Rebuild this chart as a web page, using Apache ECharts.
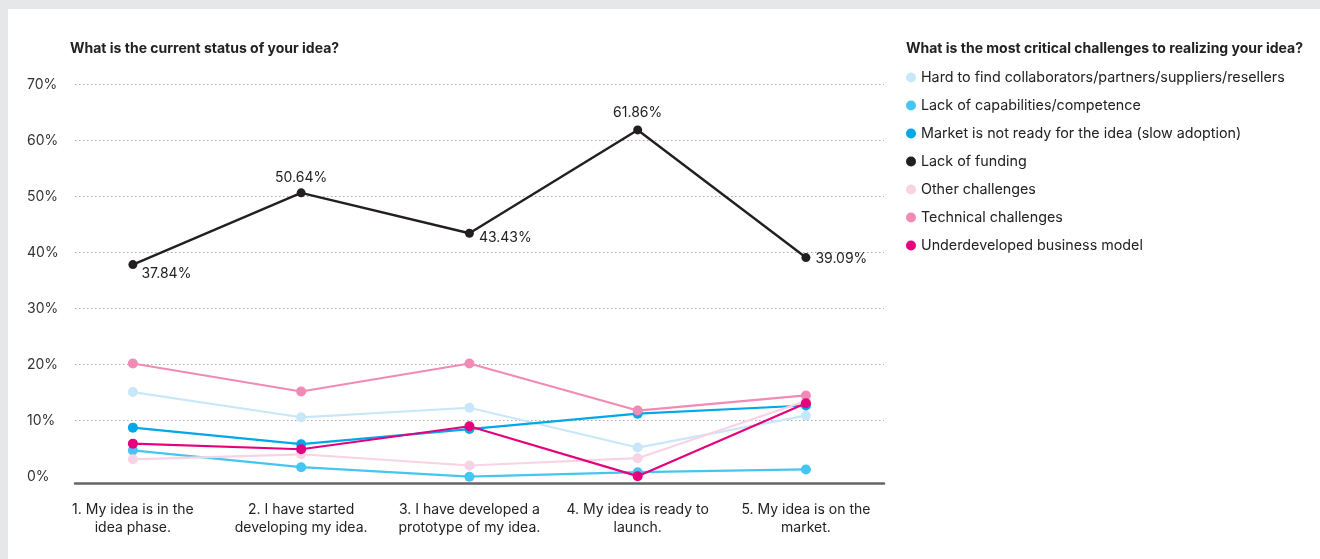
<!DOCTYPE html>
<html>
<head>
<meta charset="utf-8">
<script src="https://cdn.jsdelivr.net/npm/echarts@6/dist/echarts.min.js"></script>
<style>
html,body{margin:0;padding:0;background:#e6e7e9;width:1320px;height:559px;overflow:hidden;}
#chart{position:absolute;left:8px;top:9px;width:1312px;height:550px;background:#ffffff;}
</style>
</head>
<body>
<div id="chart"></div>
<script>
const categories = [
  "1. My idea is in the\nidea phase.",
  "2. I have started\ndeveloping my idea.",
  "3. I have developed a\nprototype of my idea.",
  "4. My idea is ready to\nlaunch.",
  "5. My idea is on the\nmarket."
];
const seriesNames = [
  "Hard to find collaborators/partners/suppliers/resellers",
  "Lack of capabilities/competence",
  "Market is not ready for the idea (slow adoption)",
  "Lack of funding",
  "Other challenges",
  "Technical challenges",
  "Underdeveloped business model"
];
const hardToFind     = [15.1, 10.6, 12.3, 5.2, 10.9];
const lackCapability = [4.7, 1.7, 0.0, 0.8, 1.3];
const marketNotReady = [8.75, 5.8, 8.5, 11.25, 12.7];
const lackFunding    = [37.84, 50.64, 43.43, 61.86, 39.09];
const otherChallenges= [3.1, 4.0, 2.0, 3.3, 13.5];
const technical      = [20.2, 15.2, 20.2, 11.8, 14.5];
const underdeveloped = [5.9, 4.9, 9.0, 0.1, 13.1];
const yTicks = [0, 10, 20, 30, 40, 50, 60, 70];

const allValues = [hardToFind, lackCapability, marketNotReady, lackFunding, otherChallenges, technical, underdeveloped];
const colors = ["#c8e7f8", "#45c5f1", "#00a8e8", "#231f20", "#f8d3e3", "#f18ab5", "#e5007d"];
const FONT = "Inter";

const fundingLabelStyle = [
  {position: "right", offset: [-1, 9]},
  {position: "top", distance: 4},
  {position: "right", offset: [0, 5]},
  {position: "top", distance: 6},
  {position: "right", offset: [0, 1]}
];

const series = seriesNames.map((name, i) => {
  const isFunding = i === 3;
  return {
    name: name,
    type: "line",
    symbol: "circle",
    symbolSize: isFunding ? 9 : 10,
    color: colors[i],
    lineStyle: {width: isFunding ? 2.4 : 2.2, color: colors[i]},
    itemStyle: {color: colors[i]},
    z: 2 + i,
    data: allValues[i].map((v, k) => {
      const d = {value: [k, v]};
      if (isFunding) {
        d.label = Object.assign({
          show: true,
          formatter: v.toFixed(2) + "%",
          color: "#222",
          fontSize: 14,
          fontFamily: FONT
        }, fundingLabelStyle[k]);
      }
      return d;
    })
  };
});
series[3].z = 20;

const chart = echarts.init(document.getElementById("chart"), null, {renderer: "canvas"});
chart.setOption({
  animation: false,
  backgroundColor: "#ffffff",
  textStyle: {fontFamily: FONT},
  title: [
    {text: "What is the current status of your idea?", left: 62, top: 33, padding: 0,
     textStyle: {fontSize: 14, fontWeight: "bold", color: "#222", fontFamily: FONT}},
    {text: "What is the most critical challenges to realizing your idea?", left: 898, top: 33, padding: 0,
     textStyle: {fontSize: 14, fontWeight: "bold", color: "#222", fontFamily: FONT}}
  ],
  legend: {
    orient: "vertical",
    left: 898,
    top: 60,
    icon: "circle",
    itemWidth: 10,
    itemHeight: 10,
    itemGap: 11,
    padding: 0,
    selectedMode: false,
    textStyle: {fontSize: 14.3, color: "#222", fontFamily: FONT, lineHeight: 17},
    data: seriesNames
  },
  grid: {left: 67, top: 75.3, width: 809, height: 392.4, containLabel: false},
  xAxis: {
    type: "value",
    min: -0.344,
    max: 4.464,
    offset: 7,
    axisLine: {show: true, onZero: false, lineStyle: {color: "#666", width: 2.5}},
    axisTick: {show: false},
    splitLine: {show: false},
    axisLabel: {
      customValues: [0, 1, 2, 3, 4],
      formatter: (v) => categories[Math.round(v)],
      fontSize: 14,
      lineHeight: 18,
      color: "#222",
      margin: 17,
      fontFamily: FONT
    }
  },
  yAxis: {
    type: "value",
    min: 0,
    max: 70,
    interval: 10,
    axisLine: {show: false},
    axisTick: {show: false},
    splitLine: {show: true, showMinLine: false, lineStyle: {type: [1.5, 2.5], color: "#a8a8a8", width: 1}},
    axisLabel: {
      customValues: yTicks,
      formatter: "{value}%",
      align: "left",
      margin: 48,
      fontSize: 14,
      color: "#333",
      fontFamily: FONT
    }
  },
  series: series
});
</script>
</body>
</html>
